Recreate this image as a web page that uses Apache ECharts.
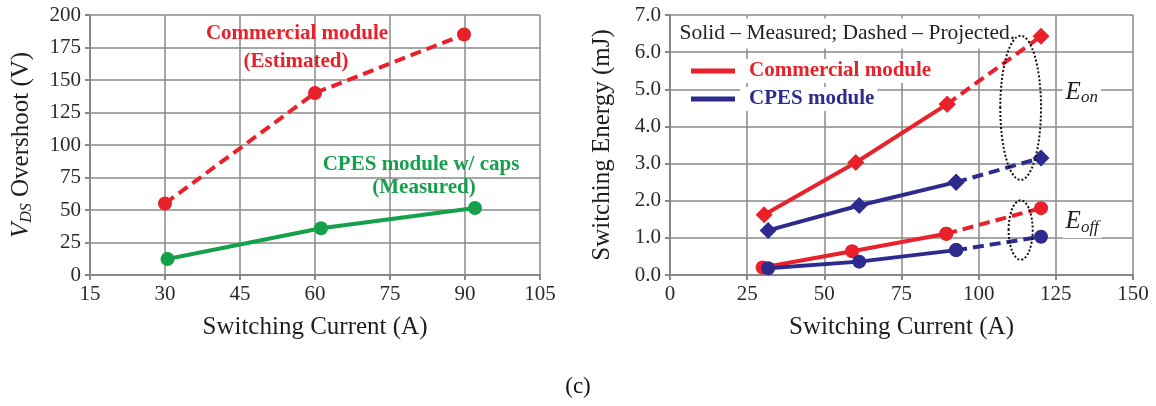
<!DOCTYPE html>
<html>
<head>
<meta charset="utf-8">
<script src="https://cdn.jsdelivr.net/npm/echarts@6/dist/echarts.min.js"></script>
<style>
  html, body { margin: 0; background: #fff; }
  #chart { width: 1156px; height: 406px; }
</style>
</head>
<body>
<div id="chart"></div>
<script>
// left panel: V_DS overshoot vs switching current
const ovCommercialX = [30, 60, 89.8];
const ovCommercialY = [55, 140, 185];
const ovCpesX = [30.5, 61.2, 92];
const ovCpesY = [12.3, 36, 51.5];

// right panel: switching energy (first 3 points measured, last point projected)
const eonCommercialX = [30.5, 60.2, 89.8, 120.2];
const eonCommercialY = [1.62, 3.03, 4.6, 6.43];
const eonCpesX = [31.8, 61.3, 92.7, 120.2];
const eonCpesY = [1.2, 1.87, 2.5, 3.15];
const eoffCommercialX = [30, 59, 89.5, 120.2];
const eoffCommercialY = [0.2, 0.64, 1.11, 1.8];
const eoffCpesX = [31.8, 61.3, 92.7, 120.2];
const eoffCpesY = [0.18, 0.36, 0.67, 1.03];
const measured = 3;

const RED = '#e8212a';
const GREEN = '#15a04c';
const BLUE = '#2d2b8d';
const FONT = "'Liberation Serif', 'DejaVu Serif', serif";

const pts = (xs, ys) => xs.map((x, i) => [x, ys[i]]);

function axisStyle(extra) {
  return Object.assign({
    axisLine: { show: true, onZero: false, lineStyle: { color: '#888', width: 2 } },
    axisTick: { show: true, length: 5, lineStyle: { color: '#888', width: 2 } },
    splitLine: { show: true, lineStyle: { color: '#8a8a8a', width: 1.5 } },
    axisLabel: { fontFamily: FONT, fontSize: 21, color: '#2a2a2a', margin: 9 },
    nameLocation: 'middle',
    nameTextStyle: { fontFamily: FONT, fontSize: 25, color: '#1e1e1e' },
  }, extra);
}

function lineSeries(name, data, color, symbol, dashed, size) {
  return {
    name, type: 'line', xAxisIndex: 1, yAxisIndex: 1, data,
    symbol, symbolSize: size, showSymbol: true,
    itemStyle: { color },
    lineStyle: { color, width: 4, type: dashed ? [11, 6] : 'solid' },
    emphasis: { disabled: true },
  };
}

// solid segment over measured points, dashed segment to the projected one
function splitSeries(name, xs, ys, color, symbol, size) {
  const all = pts(xs, ys);
  return [
    lineSeries(name, all.slice(0, measured), color, symbol, false, size),
    lineSeries(name + ' (proj)', all.slice(measured - 1), color, symbol, true, size),
  ];
}

const chart = echarts.init(document.getElementById('chart'));

chart.setOption({
  animation: false,
  title: {
    text: '(c)', left: 'center', top: 370,
    textStyle: { fontFamily: FONT, fontSize: 23, fontWeight: 'normal', color: '#111' },
  },
  grid: [
    { left: 90, top: 15, width: 450, height: 260 },
    { left: 670, top: 15, width: 463, height: 260 },
  ],
  xAxis: [
    axisStyle({ gridIndex: 0, type: 'value', min: 15, max: 105, interval: 15,
      name: 'Switching Current (A)', nameGap: 40 }),
    axisStyle({ gridIndex: 1, type: 'value', min: 0, max: 150, interval: 25,
      name: 'Switching Current (A)', nameGap: 40 }),
  ],
  yAxis: [
    axisStyle({ gridIndex: 0, type: 'value', min: 0, max: 200, interval: 25,
      name: '{v|V}{s|DS}{t| Overshoot (V)}', nameGap: 55,
      nameTextStyle: {
        fontFamily: FONT, fontSize: 25, color: '#1e1e1e',
        rich: {
          v: { fontFamily: FONT, fontSize: 25, fontStyle: 'italic', color: '#1e1e1e', lineHeight: 28 },
          s: { fontFamily: FONT, fontSize: 16, fontStyle: 'italic', color: '#1e1e1e', verticalAlign: 'bottom', lineHeight: 16 },
          t: { fontFamily: FONT, fontSize: 25, color: '#1e1e1e', lineHeight: 28 },
        },
      } }),
    axisStyle({ gridIndex: 1, type: 'value', min: 0, max: 7, interval: 1,
      name: 'Switching Energy (mJ)', nameGap: 55,
      axisLabel: { fontFamily: FONT, fontSize: 21, color: '#2a2a2a', margin: 9,
        formatter: (v) => v.toFixed(1) } }),
  ],
  legend: {
    orient: 'vertical', left: 686, top: 54,
    icon: 'rect', itemWidth: 44, itemHeight: 5, itemGap: 4,
    selectedMode: false,
    textStyle: { fontFamily: FONT, fontSize: 21, fontWeight: 'bold',
      backgroundColor: '#fff', padding: [2, 3, 1, 9] },
    data: [
      { name: 'Commercial module', textStyle: { color: RED } },
      { name: 'CPES module', textStyle: { color: BLUE } },
    ],
  },
  series: [
    {
      type: 'line', xAxisIndex: 0, yAxisIndex: 0, data: pts(ovCommercialX, ovCommercialY),
      symbol: 'circle', symbolSize: 14, itemStyle: { color: RED },
      lineStyle: { color: RED, width: 4, type: [11, 6] }, emphasis: { disabled: true },
    },
    {
      type: 'line', xAxisIndex: 0, yAxisIndex: 0, data: pts(ovCpesX, ovCpesY),
      symbol: 'circle', symbolSize: 14, itemStyle: { color: GREEN },
      lineStyle: { color: GREEN, width: 4 }, emphasis: { disabled: true },
    },
    ...splitSeries('Commercial module', eonCommercialX, eonCommercialY, RED, 'diamond', 17),
    ...splitSeries('Eoff commercial', eoffCommercialX, eoffCommercialY, RED, 'circle', 14),
    ...splitSeries('CPES module', eonCpesX, eonCpesY, BLUE, 'diamond', 17),
    ...splitSeries('Eoff CPES', eoffCpesX, eoffCpesY, BLUE, 'circle', 14),
  ],
});

// annotations, anchored in data coordinates
const leftNotes = [
  { text: 'Commercial module', at: [56.4, 185.5], color: RED },
  { text: '(Estimated)', at: [56.2, 164.5], color: RED },
  { text: 'CPES module w/ caps', at: [81.2, 85.3], color: GREEN },
  { text: '(Measured)', at: [81.8, 67.5], color: GREEN },
];
const projNote = { text: 'Solid \u2013 Measured; Dashed \u2013 Projected.', at: [2.1, 6.5] };
const ellipses = [
  { c: [113.6, 4.5], rx: 6.6, ry: 1.94 },
  { c: [113.6, 1.21], rx: 3.9, ry: 0.8 },
];
const eLabels = [
  { sub: 'on', at: [127.2, 4.92] },
  { sub: 'off', at: [127.2, 1.43] },
];

const px = (g, p) => chart.convertToPixel({ gridIndex: g }, p);
const graphic = [];

leftNotes.forEach((n) => {
  const p = px(0, n.at);
  graphic.push({
    type: 'text', x: p[0], y: p[1], z: 10,
    style: { text: n.text, fill: n.color, font: `bold 21px ${FONT}`,
      align: 'center', verticalAlign: 'middle' },
  });
});

{
  const p = px(1, projNote.at);
  graphic.push({
    type: 'text', x: p[0], y: p[1], z: 10,
    style: { text: projNote.text, fill: '#222', font: `21.5px ${FONT}`,
      align: 'left', verticalAlign: 'middle', backgroundColor: '#fff', padding: [4, 3, 4, 3] },
  });
}

ellipses.forEach((e) => {
  const c = px(1, e.c);
  const rx = px(1, [e.c[0] + e.rx, e.c[1]])[0] - c[0];
  const ry = c[1] - px(1, [e.c[0], e.c[1] + e.ry])[1];
  graphic.push({
    type: 'ellipse', z: 10,
    shape: { cx: c[0], cy: c[1], rx, ry },
    style: { fill: 'none', stroke: '#111', lineWidth: 2, lineDash: [2, 2] },
  });
});

eLabels.forEach((l) => {
  const p = px(1, l.at);
  graphic.push({
    type: 'text', x: p[0], y: p[1], z: 10,
    style: {
      text: `{e|E}{s|${l.sub}}`, align: 'left', verticalAlign: 'middle',
      backgroundColor: '#fff', padding: [2, 3, 2, 3],
      rich: {
        e: { fontFamily: FONT, fontSize: 25, fontStyle: 'italic', fill: '#1e1e1e', lineHeight: 28 },
        s: { fontFamily: FONT, fontSize: 17, fontStyle: 'italic', fill: '#1e1e1e', verticalAlign: 'bottom', lineHeight: 17 },
      },
    },
  });
});

chart.setOption({ graphic });
</script>
</body>
</html>
